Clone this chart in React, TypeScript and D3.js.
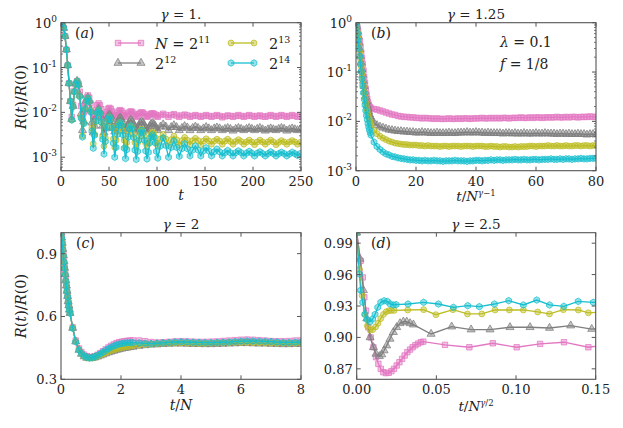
import React from 'react';
import * as d3 from 'd3';

const W = 623, H = 428;
const FONT = "'DejaVu Serif', serif";
const COLORS = ['#e377c2', '#7f7f7f', '#bcbd22', '#17becf'];
const MARKERS = ['square', 'triangle', 'circle', 'hexagon'];
const LEGEND_EXP = ['11', '12', '13', '14'];

// ---------- Panel (a): gamma = 1, log10 R(t)/R(0) vs t ----------
// dense sampling (step 1.4) up to t = 99.4, then step 2.8
const tA = [...d3.range(0, 100, 1.4), ...d3.range(100.8, 250, 2.8)];
const logA_N11 = [0, -0.03, -0.12, -0.3, -0.6, -0.95, -1.35, -1.75,
  -2.1, -1.83, -1.52, -1.36, -1.3, -1.36, -1.54, -1.86,
  -2.15, -2.0, -1.8, -1.67, -1.62, -1.67, -1.8, -2.0,
  -2.15, -2.07, -1.94, -1.84, -1.8, -1.84, -1.93, -2.05,
  -2.12, -2.07, -1.99, -1.92, -1.9, -1.92, -1.98, -2.06,
  -2.1, -2.07, -2.01, -1.97, -1.95, -1.97, -2.01, -2.07,
  -2.1, -2.07, -2.03, -1.99, -1.98, -1.99, -2.03, -2.07,
  -2.1, -2.08, -2.04, -2.01, -2.0, -2.01, -2.04, -2.08,
  -2.1, -2.08, -2.05, -2.03, -2.02, -2.03, -2.05, -2.08,
  -2.1, -2.06, -2.03, -2.06, -2.1, -2.06, -2.04, -2.07, -2.1, -2.07, -2.05, -2.07,
  -2.1, -2.08, -2.06, -2.08, -2.1, -2.08, -2.06, -2.08, -2.1, -2.08, -2.06, -2.08,
  -2.11, -2.09, -2.07, -2.08, -2.1, -2.08, -2.06, -2.08, -2.1, -2.08, -2.06, -2.08,
  -2.1, -2.08, -2.07, -2.09, -2.1, -2.08, -2.06, -2.08, -2.1, -2.08, -2.06, -2.08,
  -2.1, -2.08, -2.06, -2.08, -2.1, -2.08];
const logA_N12 = [0, -0.03, -0.12, -0.3, -0.6, -0.95, -1.35, -1.75,
  -2.15, -1.86, -1.54, -1.36, -1.3, -1.38, -1.61, -2.03,
  -2.4, -2.2, -1.92, -1.74, -1.67, -1.74, -1.94, -2.23,
  -2.45, -2.3, -2.11, -1.98, -1.93, -1.98, -2.11, -2.3,
  -2.45, -2.36, -2.21, -2.09, -2.05, -2.09, -2.2, -2.35,
  -2.43, -2.36, -2.24, -2.15, -2.12, -2.15, -2.24, -2.35,
  -2.42, -2.37, -2.27, -2.2, -2.17, -2.2, -2.27, -2.36,
  -2.41, -2.37, -2.29, -2.23, -2.21, -2.23, -2.29, -2.37,
  -2.41, -2.37, -2.31, -2.26, -2.24, -2.26, -2.3, -2.36,
  -2.4, -2.32, -2.27, -2.32, -2.4, -2.33, -2.29, -2.33, -2.4, -2.35, -2.31, -2.34,
  -2.4, -2.35, -2.32, -2.35, -2.4, -2.36, -2.33, -2.36, -2.4, -2.36, -2.34, -2.36,
  -2.4, -2.37, -2.35, -2.37, -2.41, -2.37, -2.35, -2.37, -2.4, -2.37, -2.35, -2.37,
  -2.4, -2.37, -2.35, -2.38, -2.41, -2.38, -2.36, -2.38, -2.4, -2.37, -2.35, -2.37,
  -2.41, -2.38, -2.36, -2.38, -2.4, -2.38];
const logA_N13 = [0, -0.03, -0.12, -0.3, -0.6, -0.95, -1.35, -1.75,
  -2.17, -1.87, -1.54, -1.36, -1.3, -1.39, -1.64, -2.11,
  -2.52, -2.23, -1.92, -1.74, -1.68, -1.75, -1.97, -2.35,
  -2.7, -2.49, -2.21, -2.02, -1.95, -2.02, -2.22, -2.53,
  -2.75, -2.57, -2.32, -2.16, -2.1, -2.16, -2.33, -2.59,
  -2.78, -2.62, -2.41, -2.27, -2.22, -2.27, -2.41, -2.62,
  -2.78, -2.67, -2.49, -2.35, -2.3, -2.35, -2.49, -2.67,
  -2.77, -2.68, -2.54, -2.42, -2.38, -2.42, -2.53, -2.68,
  -2.76, -2.69, -2.57, -2.48, -2.44, -2.47, -2.56, -2.68,
  -2.75, -2.59, -2.49, -2.59, -2.74, -2.61, -2.53, -2.61, -2.73, -2.63, -2.56, -2.62,
  -2.72, -2.63, -2.58, -2.63, -2.72, -2.64, -2.59, -2.64, -2.71, -2.64, -2.6, -2.64,
  -2.71, -2.64, -2.6, -2.65, -2.71, -2.65, -2.61, -2.65, -2.71, -2.66, -2.62, -2.66,
  -2.72, -2.66, -2.62, -2.66, -2.71, -2.66, -2.62, -2.66, -2.72, -2.67, -2.63, -2.66,
  -2.71, -2.66, -2.63, -2.66, -2.71, -2.67];
const logA_N14 = [0, -0.03, -0.12, -0.3, -0.6, -0.95, -1.35, -1.75,
  -2.17, -1.87, -1.54, -1.36, -1.3, -1.39, -1.65, -2.13,
  -2.55, -2.25, -1.92, -1.74, -1.68, -1.76, -1.99, -2.42,
  -2.8, -2.51, -2.19, -2.01, -1.95, -2.02, -2.22, -2.6,
  -2.93, -2.65, -2.33, -2.16, -2.1, -2.16, -2.35, -2.69,
  -3.0, -2.78, -2.49, -2.29, -2.22, -2.29, -2.5, -2.8,
  -3.03, -2.83, -2.55, -2.37, -2.3, -2.37, -2.56, -2.84,
  -3.05, -2.87, -2.62, -2.46, -2.4, -2.46, -2.62, -2.86,
  -3.04, -2.89, -2.68, -2.55, -2.5, -2.55, -2.68, -2.87,
  -3.02, -2.75, -2.57, -2.74, -3.0, -2.78, -2.64, -2.78, -2.98, -2.81, -2.7, -2.81,
  -2.97, -2.84, -2.75, -2.84, -2.97, -2.86, -2.79, -2.86, -2.97, -2.88, -2.82, -2.88,
  -2.97, -2.9, -2.85, -2.9, -2.97, -2.9, -2.86, -2.9, -2.97, -2.91, -2.87, -2.91,
  -2.97, -2.91, -2.88, -2.92, -2.97, -2.92, -2.88, -2.92, -2.97, -2.92, -2.89, -2.92,
  -2.97, -2.93, -2.89, -2.92, -2.96, -2.92];

// ---------- Panel (b): gamma = 1.25, log10 R vs t/N^(gamma-1) ----------
const uB = [...d3.range(0, 5, 0.25), ...d3.range(5, 81, 1)];
const logB_N11 = [0, -0.04, -0.1, -0.18, -0.27, -0.37, -0.48, -0.6, -0.72, -0.84, -0.97, -1.1, -1.22, -1.34, -1.45, -1.54, -1.61, -1.66, -1.7, -1.72, -1.74,
  -1.75, -1.76, -1.78, -1.8, -1.82, -1.84, -1.86, -1.87, -1.89, -1.9,
  -1.91, -1.91, -1.92, -1.92, -1.93, -1.93, -1.94, -1.93, -1.94, -1.94,
  -1.95, -1.94, -1.95, -1.95, -1.95, -1.94, -1.95, -1.95, -1.94, -1.95,
  -1.94, -1.94, -1.95, -1.94, -1.94, -1.94, -1.93, -1.94, -1.94, -1.93,
  -1.94, -1.93, -1.94, -1.93, -1.93, -1.94, -1.93, -1.93, -1.93, -1.92,
  -1.93, -1.93, -1.92, -1.93, -1.92, -1.92, -1.93, -1.92, -1.92, -1.92,
  -1.92, -1.91, -1.92, -1.92, -1.91, -1.92, -1.91, -1.91, -1.92, -1.91,
  -1.91, -1.91, -1.9, -1.91, -1.91];
const logB_N12 = [0, -0.07, -0.17, -0.28, -0.41, -0.54, -0.68, -0.81, -0.94, -1.06, -1.18, -1.29, -1.4, -1.5, -1.59, -1.67, -1.74, -1.8, -1.86, -1.9, -1.95,
  -2.03, -2.08, -2.11, -2.13, -2.15, -2.17, -2.18, -2.19, -2.2, -2.2,
  -2.21, -2.21, -2.22, -2.22, -2.23, -2.23, -2.22, -2.23, -2.23, -2.24,
  -2.24, -2.23, -2.24, -2.24, -2.24, -2.23, -2.24, -2.24, -2.23, -2.23,
  -2.23, -2.22, -2.23, -2.23, -2.22, -2.23, -2.23, -2.24, -2.23, -2.24,
  -2.24, -2.24, -2.24, -2.25, -2.24, -2.24, -2.25, -2.24, -2.25, -2.25,
  -2.24, -2.25, -2.25, -2.25, -2.24, -2.25, -2.25, -2.24, -2.25, -2.25,
  -2.25, -2.26, -2.25, -2.25, -2.26, -2.25, -2.26, -2.26, -2.25, -2.26,
  -2.26, -2.27, -2.26, -2.26, -2.27];
const logB_N13 = [0, -0.08, -0.19, -0.31, -0.45, -0.6, -0.75, -0.89, -1.03, -1.16, -1.29, -1.41, -1.52, -1.62, -1.71, -1.79, -1.86, -1.92, -1.98, -2.03, -2.07,
  -2.18, -2.25, -2.3, -2.34, -2.37, -2.4, -2.42, -2.44, -2.45, -2.46,
  -2.47, -2.47, -2.48, -2.48, -2.48, -2.49, -2.49, -2.5, -2.49, -2.5,
  -2.5, -2.5, -2.51, -2.5, -2.5, -2.51, -2.5, -2.5, -2.5, -2.51,
  -2.5, -2.5, -2.5, -2.51, -2.5, -2.5, -2.5, -2.51, -2.51, -2.5,
  -2.51, -2.51, -2.52, -2.51, -2.51, -2.52, -2.52, -2.51, -2.52, -2.51,
  -2.51, -2.51, -2.5, -2.5, -2.51, -2.5, -2.5, -2.5, -2.49, -2.5,
  -2.5, -2.49, -2.5, -2.5, -2.49, -2.5, -2.5, -2.49, -2.49, -2.5,
  -2.49, -2.49, -2.5, -2.49, -2.49];
const logB_N14 = [0, -0.1, -0.22, -0.36, -0.52, -0.68, -0.84, -0.99, -1.14, -1.28, -1.42, -1.55, -1.67, -1.78, -1.88, -1.96, -2.04, -2.11, -2.17, -2.23, -2.28,
  -2.42, -2.51, -2.57, -2.62, -2.66, -2.68, -2.71, -2.72, -2.74, -2.75,
  -2.76, -2.77, -2.78, -2.78, -2.79, -2.79, -2.8, -2.79, -2.8, -2.8,
  -2.79, -2.8, -2.8, -2.81, -2.8, -2.8, -2.8, -2.79, -2.8, -2.8,
  -2.8, -2.81, -2.8, -2.8, -2.79, -2.79, -2.8, -2.79, -2.79, -2.78,
  -2.79, -2.78, -2.78, -2.79, -2.78, -2.78, -2.78, -2.77, -2.78, -2.78,
  -2.77, -2.78, -2.78, -2.77, -2.77, -2.78, -2.77, -2.77, -2.77, -2.76,
  -2.77, -2.77, -2.76, -2.77, -2.76, -2.76, -2.77, -2.76, -2.76, -2.75,
  -2.76, -2.76, -2.75, -2.75, -2.75];

// ---------- Panel (c): gamma = 2, R vs t/N ----------
const uC = [0, 0.02, 0.04, 0.06, 0.08, 0.1, 0.12, 0.14, 0.16, 0.18, 0.2, 0.22, 0.24, 0.26, 0.28, 0.3,
  0.39, 0.49, 0.6,
  0.68, 0.77, 0.86, 0.95, 1.04, 1.13, 1.22, 1.31, 1.4, 1.49, 1.58, 1.67, 1.76, 1.85, 1.94, 2.03, 2.12, 2.21, 2.3, 2.4,
  2.6, 2.8, 3.0, 3.2, 3.4, 3.6, 3.8, 4.0, 4.2, 4.4, 4.6, 4.8, 5.0, 5.2, 5.4, 5.6, 5.8, 6.0, 6.2, 6.4, 6.6, 6.8, 7.0, 7.2, 7.4, 7.6, 7.8, 8.0];
const rC_N11 = [1.0, 0.978, 0.953, 0.925, 0.895, 0.865, 0.835, 0.805, 0.775, 0.75, 0.725, 0.7, 0.675, 0.655, 0.635, 0.618,
  0.548, 0.485, 0.447,
  0.43, 0.418, 0.41, 0.406, 0.406, 0.41, 0.417, 0.425, 0.434, 0.443, 0.452, 0.46, 0.467, 0.473, 0.477, 0.48, 0.482, 0.484, 0.485, 0.486,
  0.485, 0.482, 0.478, 0.476, 0.477, 0.479, 0.481, 0.482, 0.481, 0.48, 0.479, 0.479, 0.48, 0.481, 0.483, 0.485, 0.487, 0.489, 0.49, 0.489, 0.487, 0.485, 0.483, 0.482, 0.482, 0.483, 0.485, 0.486];
const rC_N12 = [1.0, 0.976, 0.951, 0.922, 0.892, 0.862, 0.832, 0.802, 0.772, 0.747, 0.722, 0.697, 0.672, 0.652, 0.632, 0.616,
  0.545, 0.48, 0.44,
  0.421, 0.409, 0.402, 0.4, 0.401, 0.404, 0.408, 0.413, 0.418, 0.423, 0.428, 0.432, 0.436, 0.44, 0.443, 0.446, 0.449, 0.451, 0.453, 0.455,
  0.459, 0.462, 0.465, 0.466, 0.468, 0.469, 0.47, 0.47, 0.469, 0.468, 0.468, 0.467, 0.467, 0.468, 0.469, 0.47, 0.471, 0.472, 0.472, 0.471, 0.47, 0.47, 0.469, 0.468, 0.467, 0.467, 0.468, 0.468];
const rC_N13 = [1.0, 0.976, 0.951, 0.922, 0.892, 0.862, 0.832, 0.802, 0.772, 0.747, 0.722, 0.697, 0.672, 0.652, 0.632, 0.616,
  0.545, 0.48, 0.441,
  0.422, 0.41, 0.403, 0.401, 0.402, 0.405, 0.41, 0.416, 0.421, 0.427, 0.432, 0.437, 0.441, 0.445, 0.448, 0.451, 0.454, 0.456, 0.458, 0.46,
  0.463, 0.466, 0.468, 0.469, 0.471, 0.472, 0.473, 0.473, 0.472, 0.472, 0.471, 0.471, 0.472, 0.473, 0.474, 0.475, 0.476, 0.476, 0.476, 0.475, 0.474, 0.474, 0.473, 0.472, 0.472, 0.472, 0.472, 0.472];
const rC_N14 = [1.0, 0.975, 0.95, 0.92, 0.89, 0.86, 0.83, 0.8, 0.77, 0.745, 0.72, 0.695, 0.67, 0.65, 0.63, 0.615,
  0.543, 0.479, 0.44,
  0.423, 0.412, 0.405, 0.402, 0.403, 0.407, 0.414, 0.422, 0.43, 0.438, 0.446, 0.453, 0.459, 0.464, 0.468, 0.471, 0.473, 0.474, 0.475, 0.475,
  0.474, 0.472, 0.47, 0.472, 0.474, 0.476, 0.478, 0.479, 0.478, 0.477, 0.476, 0.475, 0.475, 0.476, 0.477, 0.478, 0.48, 0.482, 0.483, 0.483, 0.482, 0.481, 0.48, 0.478, 0.476, 0.476, 0.477, 0.478];

// ---------- Panel (d): gamma = 2.5, R vs t/N^(gamma/2) ----------
const uD_N11 = [0, 0.0025, 0.0038, 0.0048, 0.0059, 0.0073, 0.0088, 0.0105, 0.0121, 0.0136, 0.0151, 0.0167, 0.0184, 0.0201, 0.0218, 0.0234, 0.0251, 0.0268, 0.0285, 0.0301, 0.0318, 0.0335, 0.0351, 0.0368, 0.0385, 0.0402, 0.0418, 0.0554, 0.0707, 0.0854, 0.1004, 0.1151, 0.1301, 0.1454, 0.16];
const rD_N11 = [1.0, 0.9732, 0.9573, 0.9383, 0.9256, 0.9097, 0.9, 0.8906, 0.8811, 0.8748, 0.87, 0.8668, 0.8659, 0.8662, 0.8678, 0.87, 0.8732, 0.8763, 0.8795, 0.8827, 0.8859, 0.8884, 0.8906, 0.8925, 0.8941, 0.8954, 0.896, 0.8929, 0.8906, 0.8944, 0.8906, 0.8938, 0.8954, 0.8906, 0.8935];
const uD_N12 = [0, 0.0021, 0.0042, 0.0063, 0.0084, 0.0105, 0.0121, 0.0142, 0.0157, 0.0172, 0.0188, 0.0209, 0.023, 0.0251, 0.0272, 0.0293, 0.0314, 0.0335, 0.0356, 0.0467, 0.0596, 0.0718, 0.0837, 0.0962, 0.1088, 0.121, 0.1343, 0.1475, 0.16];
const rD_N12 = [1.0, 0.975, 0.945, 0.918, 0.9, 0.8906, 0.8843, 0.882, 0.8837, 0.8875, 0.8922, 0.8986, 0.905, 0.9097, 0.9135, 0.915, 0.915, 0.9135, 0.9122, 0.9033, 0.9103, 0.9075, 0.9075, 0.9097, 0.9097, 0.909, 0.9113, 0.908, 0.91];
const uD_N13 = [0, 0.0017, 0.0034, 0.005, 0.0067, 0.0084, 0.0101, 0.0118, 0.0134, 0.0151, 0.0168, 0.0185, 0.0202, 0.0218, 0.0235, 0.032, 0.042, 0.0497, 0.0604, 0.0695, 0.0785, 0.0868, 0.0958, 0.1046, 0.1136, 0.121, 0.1297, 0.1391, 0.1454, 0.16];
const rD_N13 = [1.0, 0.965, 0.94, 0.922, 0.911, 0.907, 0.9075, 0.91, 0.9135, 0.918, 0.922, 0.9245, 0.9255, 0.9258, 0.9258, 0.9262, 0.9265, 0.9217, 0.9265, 0.9224, 0.9224, 0.9262, 0.9262, 0.9262, 0.9243, 0.9224, 0.9265, 0.9262, 0.9235, 0.925];
const uD_N14 = [0, 0.0017, 0.0025, 0.0038, 0.0052, 0.0067, 0.0084, 0.01, 0.0115, 0.0132, 0.0151, 0.0172, 0.0192, 0.0209, 0.023, 0.0247, 0.0322, 0.042, 0.0513, 0.0607, 0.0697, 0.077, 0.0864, 0.0954, 0.1046, 0.113, 0.121, 0.13, 0.139, 0.1485, 0.16];
const rD_N14 = [1.0, 0.9605, 0.945, 0.9335, 0.922, 0.9167, 0.915, 0.9176, 0.922, 0.9287, 0.9335, 0.935, 0.9344, 0.932, 0.931, 0.9313, 0.9319, 0.9335, 0.9319, 0.9287, 0.9303, 0.9294, 0.9319, 0.9351, 0.931, 0.9357, 0.931, 0.9297, 0.9344, 0.9335, 0.933];

// ---------- ticks ----------
const xTicksA = [0, 50, 100, 150, 200, 250];
const xTicksB = [0, 20, 40, 60, 80];
const xTicksC = [0, 2, 4, 6, 8];
const xTicksD = [0, 0.05, 0.1, 0.15];
const xTickLabelsD = ['0.00', '0.05', '0.10', '0.15'];
const logTicks = [1e-3, 1e-2, 1e-1, 1];
const logTickExp = ['-3', '-2', '-1', '0'];
const yTicksC = [0.3, 0.6, 0.9];
const yTickLabelsC = ['0.3', '0.6', '0.9'];
const yTicksD = [0.87, 0.9, 0.93, 0.96, 0.99];
const yTickLabelsD = ['0.87', '0.90', '0.93', '0.96', '0.99'];

function markerPath(kind: string): string {
  if (kind === 'square') return 'M-2.7,-2.7h5.4v5.4h-5.4Z';
  if (kind === 'triangle') return d3.symbol(d3.symbolTriangle, 28)() as string;
  if (kind === 'circle') return d3.symbol(d3.symbolCircle, 27)() as string;
  const r = 3.3;
  const pts = d3.range(6).map(k => {
    const a = Math.PI / 2 + k * Math.PI / 3;
    return [r * Math.cos(a), r * Math.sin(a)];
  });
  return 'M' + pts.map(p => p[0].toFixed(2) + ',' + p[1].toFixed(2)).join('L') + 'Z';
}

type Series = { xs: number[]; ys: number[] };

function Marker({ kind, color, x, y }: { kind: string; color: string; x: number; y: number }) {
  return (
    <path d={markerPath(kind)} transform={`translate(${x},${y})`} fill={color} fillOpacity={0.45}
      stroke={color} strokeOpacity={0.85} strokeWidth={0.9} />
  );
}

function Panel(props: {
  id: string; x: any; y: any; series: Series[]; log?: boolean;
  xTicks: number[]; xLabels: string[]; yTicks: number[]; yLabels?: string[]; yExp?: string[];
}) {
  const { id, x, y, series, log, xTicks, xLabels, yTicks, yLabels, yExp } = props;
  const [x0, x1] = x.range();
  const [yb, yt] = y.range();
  const minor: number[] = [];
  if (log) {
    const [d0, d1] = y.domain();
    for (let k = -4; k <= 0; k++) for (let m = 2; m <= 9; m++) {
      const v = m * Math.pow(10, k);
      if (v >= d0 && v <= d1) minor.push(v);
    }
  }
  const spine = '#555';
  return (
    <g>
      <defs>
        <clipPath id={id}><rect x={x0} y={yt} width={x1 - x0} height={yb - yt} /></clipPath>
      </defs>
      <g clipPath={`url(#${id})`}>
        {series.map((s, si) => {
          const pts = s.xs.map((xv, i) => [x(xv), y(s.ys[i])] as [number, number]);
          const line = d3.line()(pts) as string;
          return (
            <g key={si}>
              <path d={line} fill="none" stroke={COLORS[si]} strokeWidth={1.3} />
              {pts.map((p, i) => <Marker key={i} kind={MARKERS[si]} color={COLORS[si]} x={p[0]} y={p[1]} />)}
            </g>
          );
        })}
      </g>
      {xTicks.map((t, i) => (
        <g key={'xt' + i}>
          <line x1={x(t)} x2={x(t)} y1={yb} y2={yb - 4} stroke={spine} />
          <line x1={x(t)} x2={x(t)} y1={yt} y2={yt + 4} stroke={spine} />
          <text x={x(t)} y={yb + 15} textAnchor="middle" fontSize={13} fontFamily={FONT} fill="#222">{xLabels[i]}</text>
        </g>
      ))}
      {yTicks.map((t, i) => (
        <g key={'yt' + i}>
          <line x1={x0} x2={x0 + 4} y1={y(t)} y2={y(t)} stroke={spine} />
          <line x1={x1} x2={x1 - 4} y1={y(t)} y2={y(t)} stroke={spine} />
          {yExp ? (
            <text x={x0 - 4} y={y(t) + 5} textAnchor="end" fontSize={13} fontFamily={FONT} fill="#222">
              10<tspan dy={-6} fontSize={9}>{yExp[i]}</tspan>
            </text>
          ) : (
            <text x={x0 - 4} y={y(t) + 5} textAnchor="end" fontSize={13} fontFamily={FONT} fill="#222">{yLabels![i]}</text>
          )}
        </g>
      ))}
      {minor.map((t, i) => (
        <g key={'mt' + i}>
          <line x1={x0} x2={x0 + 2} y1={y(t)} y2={y(t)} stroke={spine} strokeWidth={0.8} />
          <line x1={x1} x2={x1 - 2} y1={y(t)} y2={y(t)} stroke={spine} strokeWidth={0.8} />
        </g>
      ))}
      <rect x={x0} y={yt} width={x1 - x0} height={yb - yt} fill="none" stroke={spine} strokeWidth={1.1} />
    </g>
  );
}

const toLin = (a: number[]) => a.map(v => Math.pow(10, v));

export default function App() {
  const xA = d3.scaleLinear().domain([0, 250]).range([61, 301]);
  const yA = d3.scaleLog().domain([5e-4, 1]).range([170.7, 22.7]);
  const xB = d3.scaleLinear().domain([0, 80]).range([356, 596]);
  const yB = d3.scaleLog().domain([1e-3, 1]).range([170.7, 22.7]);
  const xC = d3.scaleLinear().domain([0, 8]).range([61, 301]);
  const yC = d3.scaleLinear().domain([0.3, 1.0]).range([379.3, 232.7]);
  const xD = d3.scaleLinear().domain([0, 0.15]).range([356.7, 595.7]);
  const yD = d3.scaleLinear().domain([0.86, 1.0]).range([379.3, 232.7]);

  const sA: Series[] = [logA_N11, logA_N12, logA_N13, logA_N14].map(a => ({ xs: tA, ys: toLin(a) }));
  const sB: Series[] = [logB_N11, logB_N12, logB_N13, logB_N14].map(a => ({ xs: uB, ys: toLin(a) }));
  const sC: Series[] = [rC_N11, rC_N12, rC_N13, rC_N14].map(a => ({ xs: uC, ys: a }));
  const sD: Series[] = [
    { xs: uD_N11, ys: rD_N11 }, { xs: uD_N12, ys: rD_N12 },
    { xs: uD_N13, ys: rD_N13 }, { xs: uD_N14, ys: rD_N14 },
  ];

  const txt = { fontFamily: FONT, fill: '#222' } as const;

  return (
    <svg width={W} height={H} style={{ position: 'absolute', left: 0, top: 0, background: '#fff' }}>
      <rect width={W} height={H} fill="#fff" />
      <Panel id="ca" x={xA} y={yA} series={sA} log xTicks={xTicksA} xLabels={xTicksA.map(String)} yTicks={logTicks} yExp={logTickExp} />
      <Panel id="cb" x={xB} y={yB} series={sB} log xTicks={xTicksB} xLabels={xTicksB.map(String)} yTicks={logTicks} yExp={logTickExp} />
      <Panel id="cc" x={xC} y={yC} series={sC} xTicks={xTicksC} xLabels={xTicksC.map(String)} yTicks={yTicksC} yLabels={yTickLabelsC} />
      <Panel id="cd" x={xD} y={yD} series={sD} xTicks={xTicksD} xLabels={xTickLabelsD} yTicks={yTicksD} yLabels={yTickLabelsD} />

      {/* titles */}
      <text x={181} y={19} textAnchor="middle" fontSize={13.5} {...txt}><tspan fontStyle="italic">γ</tspan> = 1.</text>
      <text x={476} y={19} textAnchor="middle" fontSize={13.5} {...txt}><tspan fontStyle="italic">γ</tspan> = 1.25</text>
      <text x={181} y={229} textAnchor="middle" fontSize={13.5} {...txt}><tspan fontStyle="italic">γ</tspan> = 2</text>
      <text x={476} y={229} textAnchor="middle" fontSize={13.5} {...txt}><tspan fontStyle="italic">γ</tspan> = 2.5</text>

      {/* panel labels */}
      <text x={75} y={38} fontSize={14} {...txt}>(<tspan fontStyle="italic">a</tspan>)</text>
      <text x={371} y={38} fontSize={14} {...txt}>(<tspan fontStyle="italic">b</tspan>)</text>
      <text x={76} y={248} fontSize={14} {...txt}>(<tspan fontStyle="italic">c</tspan>)</text>
      <text x={371} y={248} fontSize={14} {...txt}>(<tspan fontStyle="italic">d</tspan>)</text>

      {/* parameters */}
      <text x={500} y={47} fontSize={14} {...txt}><tspan fontStyle="italic">λ</tspan> = 0.1</text>
      <text x={500} y={69} fontSize={14} {...txt}><tspan fontStyle="italic">f</tspan> = 1/8</text>

      {/* x labels */}
      <text x={181} y={200} textAnchor="middle" fontSize={14} fontStyle="italic" {...txt}>t</text>
      <text x={476} y={201} textAnchor="middle" fontSize={13.5} {...txt}>
        <tspan fontStyle="italic">t</tspan>/<tspan fontStyle="italic">N</tspan><tspan dy={-5} fontSize={8.5}><tspan fontStyle="italic">γ</tspan>−1</tspan>
      </text>
      <text x={181} y={410} textAnchor="middle" fontSize={14} {...txt}>
        <tspan fontStyle="italic">t</tspan>/<tspan fontStyle="italic">N</tspan>
      </text>
      <text x={476} y={411} textAnchor="middle" fontSize={13.5} {...txt}>
        <tspan fontStyle="italic">t</tspan>/<tspan fontStyle="italic">N</tspan><tspan dy={-5} fontSize={8.5}><tspan fontStyle="italic">γ</tspan>/2</tspan>
      </text>

      {/* y labels */}
      {[97, 306].map((cy, i) => (
        <text key={i} transform={`translate(26,${cy}) rotate(-90)`} textAnchor="middle" fontSize={14.5} {...txt}>
          <tspan fontStyle="italic">R</tspan>(<tspan fontStyle="italic">t</tspan>)/<tspan fontStyle="italic">R</tspan>(0)
        </text>
      ))}

      {/* legend */}
      {LEGEND_EXP.map((e, i) => {
        const col = i < 2 ? 0 : 1;
        const row = i % 2;
        const lx0 = col === 0 ? 118 : 231;
        const lx1 = lx0 + 23;
        const ly = 43 + row * 20;
        const tx = col === 0 ? 155 : 269;
        return (
          <g key={i}>
            <line x1={lx0} x2={lx1} y1={ly} y2={ly} stroke={COLORS[i]} strokeWidth={1.3} />
            <Marker kind={MARKERS[i]} color={COLORS[i]} x={lx0} y={ly} />
            <Marker kind={MARKERS[i]} color={COLORS[i]} x={lx1} y={ly} />
            <text x={tx} y={ly + 6} fontSize={14.5} {...txt}>
              {i === 0 ? <><tspan fontStyle="italic">N</tspan> = </> : null}2<tspan dy={-6} fontSize={9.5}>{e}</tspan>
            </text>
          </g>
        );
      })}
    </svg>
  );
}
